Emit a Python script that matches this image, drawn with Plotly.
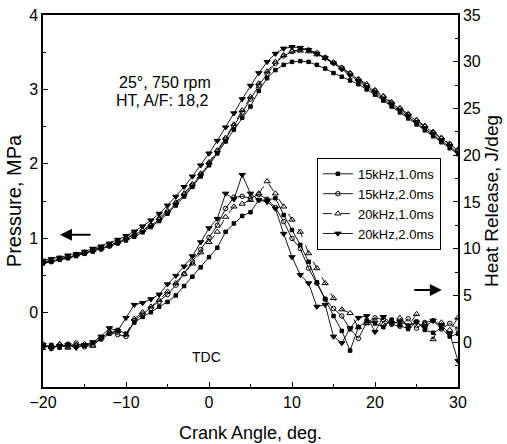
import plotly.graph_objects as go

crank_angle = list(range(-20, 31))

series_names = ["15kHz,1.0ms", "15kHz,2.0ms", "20kHz,1.0ms", "20kHz,2.0ms"]

pressure_15k_1ms = [0.66, 0.68, 0.71, 0.73, 0.76, 0.79, 0.82, 0.85, 0.89, 0.93,
                    0.97, 1.02, 1.08, 1.15, 1.23, 1.33, 1.44, 1.56, 1.69, 1.83,
                    1.98, 2.14, 2.30, 2.46, 2.62, 2.77, 2.98, 3.15, 3.26, 3.33,
                    3.37, 3.38, 3.37, 3.33, 3.28, 3.22, 3.17, 3.12, 3.07, 3.00,
                    2.93, 2.85, 2.77, 2.69, 2.61, 2.53, 2.45, 2.37, 2.29, 2.21, 2.13]
pressure_15k_2ms = [0.67, 0.69, 0.72, 0.74, 0.77, 0.80, 0.83, 0.86, 0.90, 0.94,
                    0.99, 1.04, 1.10, 1.17, 1.25, 1.35, 1.46, 1.58, 1.71, 1.85,
                    2.00, 2.16, 2.33, 2.51, 2.69, 2.87, 3.05, 3.21, 3.35, 3.45,
                    3.51, 3.54, 3.53, 3.49, 3.43, 3.36, 3.29, 3.21, 3.13, 3.05,
                    2.98, 2.90, 2.82, 2.74, 2.66, 2.58, 2.50, 2.42, 2.34, 2.26, 2.18]
pressure_20k_1ms = [0.68, 0.70, 0.73, 0.75, 0.78, 0.81, 0.84, 0.87, 0.91, 0.95,
                    1.00, 1.05, 1.11, 1.18, 1.27, 1.37, 1.48, 1.60, 1.73, 1.87,
                    2.02, 2.18, 2.35, 2.53, 2.72, 2.90, 3.08, 3.24, 3.37, 3.46,
                    3.51, 3.52, 3.51, 3.47, 3.42, 3.36, 3.29, 3.22, 3.14, 3.07,
                    2.99, 2.91, 2.83, 2.75, 2.67, 2.59, 2.51, 2.43, 2.35, 2.27, 2.19]
pressure_20k_2ms = [0.70, 0.72, 0.74, 0.77, 0.79, 0.82, 0.86, 0.89, 0.93, 0.98,
                    1.03, 1.09, 1.16, 1.24, 1.33, 1.44, 1.56, 1.69, 1.83, 1.98,
                    2.14, 2.31, 2.49, 2.68, 2.87, 3.05, 3.22, 3.37, 3.48, 3.55,
                    3.57, 3.56, 3.53, 3.48, 3.42, 3.35, 3.27, 3.19, 3.11, 3.03,
                    2.96, 2.88, 2.80, 2.72, 2.64, 2.56, 2.48, 2.40, 2.32, 2.24, 2.15]

heat_15k_1ms = [-0.5, -0.3, -0.6, -0.2, -0.5, -0.4, -0.1, 0.3, 0.9, 1.3,
                0.9, 2.1, 2.7, 3.2, 3.8, 4.3, 5.0, 6.0, 7.0, 8.0,
                9.1, 10.1, 11.8, 12.7, 13.5, 13.9, 15.2, 15.2, 15.4, 13.6,
                12.0, 10.4, 8.6, 6.4, 4.6, 2.8, 1.2, -0.9, 1.6, 2.3,
                2.0, 1.6, 2.4, 1.8, 1.4, 2.2, 1.3, 1.0, 1.5, 0.6, 0.9]
heat_15k_2ms = [-0.2, -0.7, -0.3, -0.5, -0.1, -0.5, -0.3, 0.4, 1.1, 0.8,
                0.6, 2.3, 3.0, 3.6, 4.3, 5.1, 6.1, 7.3, 8.6, 9.9,
                11.2, 12.5, 14.3, 15.5, 15.6, 15.4, 15.8, 15.3, 14.4, 12.9,
                11.1, 10.0, 7.9, 6.3, 4.6, 3.6, 2.8, 1.4, 0.4, 2.1,
                2.6, 2.4, 1.9, 1.7, 2.5, 1.5, 2.1, 2.3, 1.4, 2.0, 1.4]
heat_20k_1ms = [-0.4, -0.5, -0.2, -0.6, -0.3, -0.2, -0.4, 0.5, 1.0, 1.2,
                0.8, 2.5, 3.2, 3.8, 4.5, 5.4, 6.3, 7.3, 8.4, 9.6,
                10.7, 11.8, 13.4, 14.5, 14.8, 15.2, 15.9, 17.2, 15.9, 14.5,
                13.1, 11.8, 9.5, 7.9, 6.3, 4.7, 3.5, 3.1, 1.6, 2.0,
                2.3, 1.9, 2.2, 2.6, 1.7, 3.0, 2.0, 0.3, 2.1, 1.3, 2.6]
heat_20k_2ms = [-0.3, -0.6, -0.4, -0.3, -0.6, -0.3, 0.0, 0.6, 1.5, 1.2,
                2.6, 4.0, 4.2, 4.6, 5.1, 6.2, 7.1, 8.1, 9.2, 10.7,
                12.2, 13.2, 15.9, 15.3, 17.9, 15.9, 15.2, 15.0, 14.3, 11.6,
                9.1, 7.2, 6.3, 3.8, 4.0, 0.6, -0.1, 1.5, 2.6, 2.8,
                1.1, 2.7, 2.0, 2.2, 1.8, 2.1, 1.6, 2.3, 1.8, 0.9, -2.0]

x_ticks = [-20, -10, 0, 10, 20, 30]
p_ticks = [0, 1, 2, 3, 4]
h_ticks = [0, 5, 10, 15, 20, 25, 30, 35]

pressures = [pressure_15k_1ms, pressure_15k_2ms, pressure_20k_1ms, pressure_20k_2ms]
heats = [heat_15k_1ms, heat_15k_2ms, heat_20k_1ms, heat_20k_2ms]
symbols = ["square", "circle-open", "triangle-up-open", "triangle-down"]
sizes = [3.5, 4.5, 5.5, 5.5]
dashes = ["solid", "solid", "dash", "solid"]

FONT = "Liberation Sans, Arial, sans-serif"

fig = go.Figure()
for i, name in enumerate(series_names):
    style = dict(
        mode="lines+markers",
        line=dict(color="black", width=0.9, dash=dashes[i]),
        marker=dict(symbol=symbols[i], size=sizes[i], color="black",
                    line=dict(color="black", width=1)),
    )
    fig.add_trace(go.Scatter(x=crank_angle, y=pressures[i], name=name,
                             legendgroup=name, showlegend=True, yaxis="y", **style))
    fig.add_trace(go.Scatter(x=crank_angle, y=heats[i], name=name,
                             legendgroup=name, showlegend=False, yaxis="y2", **style))

axis_common = dict(showgrid=False, zeroline=False, showline=True, linecolor="black",
                   linewidth=1.5, ticks="inside", ticklen=5, tickwidth=1.2,
                   tickcolor="black", automargin=False,
                   tickfont=dict(family=FONT, size=16, color="black"))

fig.update_layout(
    width=507, height=444,
    margin=dict(l=43, r=49, t=15, b=57),
    paper_bgcolor="white", plot_bgcolor="white",
    font=dict(family=FONT, color="black"),
    xaxis=dict(range=[-20, 30], tickvals=x_ticks, mirror=True,
               minor=dict(tickvals=[-15, -5, 5, 15, 25], ticks="inside", ticklen=3,
                          tickcolor="black"),
               title=dict(text="Crank Angle, deg.", font=dict(family=FONT, size=18),
                          standoff=16),
               **axis_common),
    yaxis=dict(range=[-1, 4], tickvals=p_ticks,
               minor=dict(tickvals=[-0.5, 0.5, 1.5, 2.5, 3.5], ticks="inside",
                          ticklen=3, tickcolor="black"),
               title=dict(text="Pressure, MPa", font=dict(family=FONT, size=20),
                          standoff=2),
               **axis_common),
    yaxis2=dict(range=[-4.8, 35], tickvals=h_ticks, overlaying="y", side="right",
                minor=dict(tickvals=[-2.5, 2.5, 7.5, 12.5, 17.5, 22.5, 27.5, 32.5],
                           ticks="inside", ticklen=3, tickcolor="black"),
                title=dict(text="Heat Release, J/deg", font=dict(family=FONT, size=19),
                           standoff=2),
                **axis_common),
    legend=dict(x=0.66, y=0.616, xanchor="left", yanchor="top",
                bgcolor="white", bordercolor="black", borderwidth=1,
                font=dict(family=FONT, size=13, color="black"),
                tracegroupgap=0),
    showlegend=True,
)

fig.add_annotation(xref="paper", yref="paper", x=0.178, y=0.847, text="25°, 750 rpm",
                   showarrow=False, font=dict(family=FONT, size=16))
fig.add_annotation(xref="paper", yref="paper", x=0.172, y=0.798, text="HT, A/F: 18,2",
                   showarrow=False, font=dict(family=FONT, size=16))
fig.add_annotation(xref="paper", yref="paper", x=0.393, y=0.054, text="TDC",
                   showarrow=False, font=dict(family=FONT, size=14))
fig.add_annotation(xref="paper", yref="paper", axref="pixel", ayref="pixel",
                   x=0.041, y=0.409, ax=32, ay=0, text="",
                   showarrow=True, arrowhead=2, arrowsize=1.2, arrowwidth=2,
                   arrowcolor="black")
fig.add_annotation(xref="paper", yref="paper", axref="pixel", ayref="pixel",
                   x=0.961, y=0.261, ax=-29, ay=0, text="",
                   showarrow=True, arrowhead=2, arrowsize=1.2, arrowwidth=2,
                   arrowcolor="black")

fig.write_html("out.html")
